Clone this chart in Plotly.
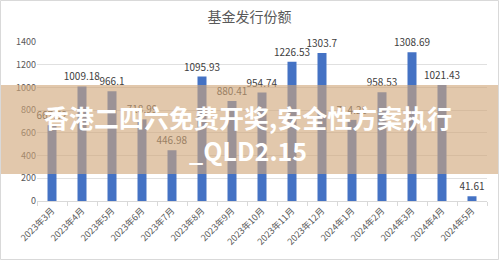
import plotly.graph_objects as go

categories = ["2023年3月", "2023年4月", "2023年5月", "2023年6月", "2023年7月", "2023年8月",
              "2023年9月", "2023年10月", "2023年11月", "2023年12月", "2024年1月", "2024年2月",
              "2024年3月", "2024年4月", "2024年5月"]
values = [667.52, 1009.18, 966.1, 718.99, 446.98, 1095.93, 880.41, 954.74,
          1226.53, 1303.7, 714.28, 958.53, 1308.69, 1021.43, 41.61]
labels = ["667.52", "1009.18", "966.1", "718.99", "446.98", "1095.93", "880.41", "954.74",
          "1226.53", "1303.7", "714.28", "958.53", "1308.69", "1021.43", "41.61"]
y_ticks = [0, 200, 400, 600, 800, 1000, 1200, 1400]

W, H = 499, 260
ML, MR, MT, MB = 37, 12, 42, 59
PW, PH = W - ML - MR, H - MT - MB

def px(x):
    return (x - ML) / PW

def py(y):
    return (H - MB - y) / PH

FONT = "Noto Sans CJK SC"

fig = go.Figure(go.Bar(
    x=categories, y=values, text=labels, textposition="outside",
    textfont=dict(family=FONT, size=10, color="#404040"),
    marker=dict(color="#4472C4", line=dict(width=0)),
    constraintext="none", cliponaxis=False,
))

fig.update_layout(
    width=W, height=H,
    margin=dict(l=ML, r=MR, t=MT, b=MB),
    paper_bgcolor="white", plot_bgcolor="white",
    bargap=0.7, showlegend=False,
    title=dict(text="基金发行份额", x=0.5, xanchor="center", y=1 - 17 / H, yanchor="middle",
               yref="container", font=dict(family=FONT, size=14, color="#595959")),
    yaxis=dict(range=[0, 1400], tickvals=y_ticks, showgrid=True, gridcolor="#E0E0E0",
               gridwidth=1, zeroline=False, showline=False, ticks="",
               tickfont=dict(family=FONT, size=9, color="#595959")),
    xaxis=dict(type="category", tickangle=-45, showline=True, linecolor="#D9D9D9",
               ticks="outside", tickson="boundaries", ticklen=4, tickcolor="#D9D9D9",
               tickfont=dict(family=FONT, size=9, color="#595959"), showgrid=False),
)

fig.add_shape(type="rect", xref="paper", yref="paper",
              x0=px(0), x1=px(W), y0=py(174), y1=py(85),
              fillcolor="rgba(208,166,121,0.62)", line=dict(width=0), layer="above")
fig.add_shape(type="rect", xref="paper", yref="paper",
              x0=px(0.5), x1=px(W - 0.5), y0=py(H - 0.5), y1=py(0.5),
              fillcolor="rgba(0,0,0,0)", line=dict(width=1, color="#D9D9D9"), layer="above")

fig.add_annotation(text="<b>香港二四六免费开奖,安全性方案执行</b>", xref="paper", yref="paper",
                   x=px(248), y=py(117), showarrow=False, xanchor="center", yanchor="middle",
                   font=dict(family=FONT, size=25, color="white"))
fig.add_annotation(text="<b>_QLD2.15</b>", xref="paper", yref="paper",
                   x=px(248), y=py(150), showarrow=False, xanchor="center", yanchor="middle",
                   font=dict(family=FONT, size=25, color="white"))

fig.write_html("out.html")
